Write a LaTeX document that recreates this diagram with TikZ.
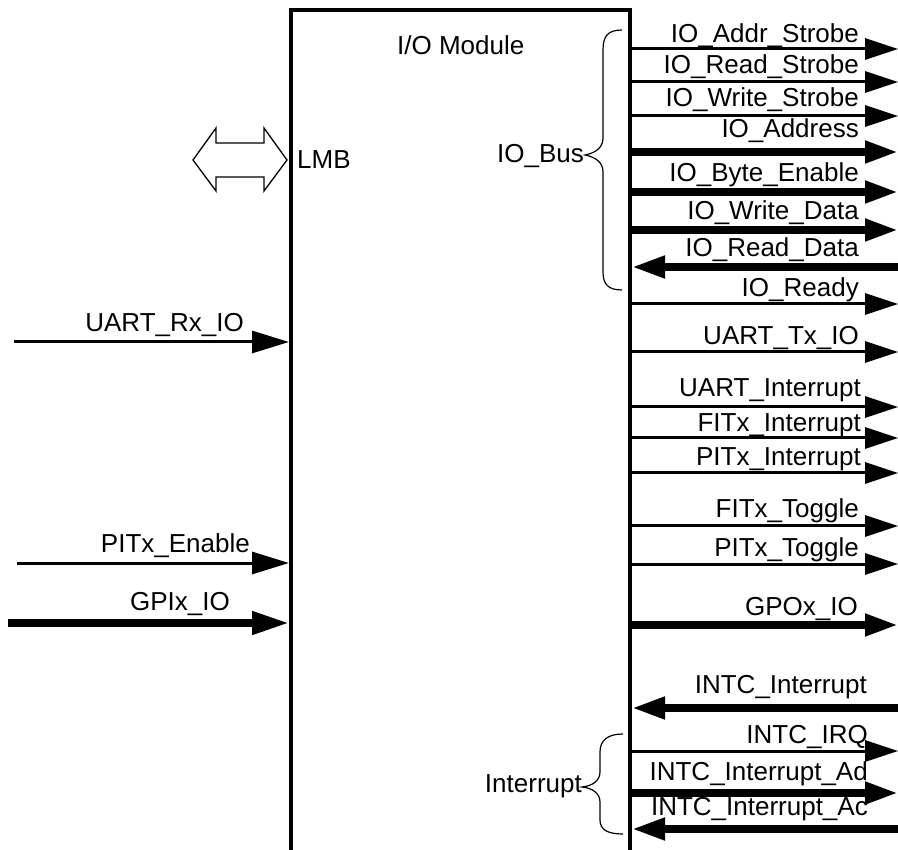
\documentclass[tikz,border=0pt]{standalone}
\usepackage{fontspec}
\setmainfont{Liberation Sans}
\usetikzlibrary{arrows.meta}
\begin{document}
\begin{tikzpicture}[x=1pt,y=-1pt,
  lbl/.style={font=\fontsize{26}{30}\selectfont, inner sep=0pt},
  thinsig/.style={line width=3pt},
  thicksig/.style={line width=7.5pt},
  tipr/.style={-{Triangle[length=33pt,width=21pt]}},
  tipl/.style={-{Triangle[length=37pt,width=22pt]}},
  boxline/.style={line width=3.5pt},
  brace/.style={line width=1.2pt},
]
\useasboundingbox (0,0) rectangle (898,850);
% module box (open at the bottom)
\coordinate (bl) at (291,850);
\coordinate (tl) at (291,10);
\coordinate (tr) at (630,10);
\coordinate (br) at (630,850);
\draw[boxline] (bl) -- (tl) -- (tr) -- (br);
\node[lbl, anchor=base west] (title) at (397,55) {I/O Module};
% LMB double arrow
\draw[line width=1.3pt] (193,160) -- (216,128) -- (216,143) -- (264,143) -- (264,128) -- (287,160)
  -- (264,191) -- (264,177) -- (216,177) -- (216,191) -- cycle;
\node[lbl, anchor=base west] (lmb) at (297,169) {LMB};
% right side outputs
\foreach \n/\y/\b/\t/\s/\e in {
  1/49/43/IO\_Addr\_Strobe/thinsig/859,
  2/82/74/IO\_Read\_Strobe/thinsig/859,
  3/116/107/IO\_Write\_Strobe/thinsig/859,
  4/152/138/IO\_Address/thicksig/859,
  5/192/182/IO\_Byte\_Enable/thicksig/859,
  6/230/220/IO\_Write\_Data/thicksig/859,
  8/304/297/IO\_Ready/thinsig/859,
  9/352/345/UART\_Tx\_IO/thinsig/859,
  10/407/397/UART\_Interrupt/thinsig/861,
  11/438/432/FITx\_Interrupt/thinsig/861,
  12/473/466/PITx\_Interrupt/thinsig/861,
  13/526/518/FITx\_Toggle/thinsig/859,
  14/564/556/PITx\_Toggle/thinsig/859,
  15/625/615/GPOx\_IO/thicksig/858,
  17/751/743/INTC\_IRQ/thinsig/868,
  18/793/780/INTC\_Interrupt\_Ad/thicksig/868}{
  \node[lbl, anchor=base east] (rl\n) at (\e,\b) {\t};
  \coordinate (ra\n) at (630,\y);
  \coordinate (rb\n) at (898,\y);
  \draw[\s, tipr] (ra\n) -- (rb\n);
}
% right side inputs
\foreach \n/\y/\b/\t/\s/\e in {
  7/267/257/IO\_Read\_Data/thicksig/859,
  16/708/693/INTC\_Interrupt/thicksig/867,
  19/829/815/INTC\_Interrupt\_Ac/thicksig/868}{
  \node[lbl, anchor=base east] (rl\n) at (\e,\b) {\t};
  \coordinate (ra\n) at (632,\y);
  \coordinate (rb\n) at (898,\y);
  \draw[\s, tipr] (rb\n) -- (ra\n);
}
% left side inputs
\foreach \n/\x/\y/\b/\t/\s/\e in {
  1/14/342/332/UART\_Rx\_IO/thinsig/244,
  2/17/563/553/PITx\_Enable/thinsig/250,
  3/8/623/610/GPIx\_IO/thicksig/230}{
  \node[lbl, anchor=base east] (ll\n) at (\e,\b) {\t};
  \coordinate (la\n) at (\x,\y);
  \coordinate (lb\n) at (289,\y);
  \draw[\s, tipl] (la\n) -- (lb\n);
}
% IO_Bus brace
\draw[brace] (622,30) .. controls (608,30) and (603,36) .. (603,50) -- (603,138)
  .. controls (603,148) and (595,153) .. (585,155)
  .. controls (595,157) and (603,162) .. (603,172) -- (603,272)
  .. controls (603,284) and (608,290) .. (622,290);
\node[lbl, anchor=base east] (iobus) at (584,163) {IO\_Bus};
% Interrupt brace
\draw[brace] (623,734) .. controls (608,734) and (600,740) .. (600,752) -- (600,772)
  .. controls (600,781) and (592,786) .. (582,787)
  .. controls (592,788) and (600,793) .. (600,802) -- (600,820)
  .. controls (600,830) and (608,834) .. (623,834);
\node[lbl, anchor=base east] (intr) at (582,792) {Interrupt};
\end{tikzpicture}
\end{document}
